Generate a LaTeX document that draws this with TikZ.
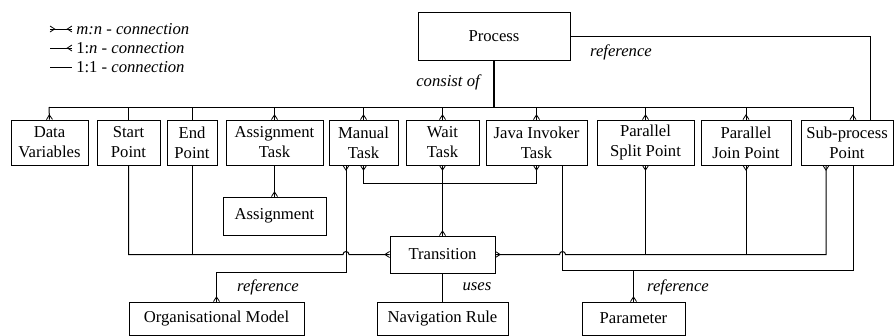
\documentclass[tikz,border=0pt]{standalone}
\usepackage{fontspec}
\setmainfont{Liberation Serif}
\usetikzlibrary{arrows.meta,calc}

% crow's foot: prongs open towards the end of the line, middle line runs through
\pgfdeclarearrow{
  name = CrowFoot,
  parameters = {\the\pgfarrowlength,\the\pgfarrowwidth},
  setup code = {
    \pgfarrowssettipend{0pt}
    \pgfarrowssetlineend{0pt}
    \pgfarrowssetbackend{-\pgfarrowlength}
    \pgfarrowssetvisualbackend{-\pgfarrowlength}
    \pgfarrowshullpoint{0pt}{.5\pgfarrowwidth}
    \pgfarrowshullpoint{0pt}{-.5\pgfarrowwidth}
    \pgfarrowshullpoint{-\pgfarrowlength}{0pt}
    \pgfarrowssavethe\pgfarrowlength
    \pgfarrowssavethe\pgfarrowwidth
  },
  drawing code = {
    \pgfsetlinewidth{0.6pt}
    \pgfsetdash{}{0pt}
    \pgfpathmoveto{\pgfqpoint{0pt}{.5\pgfarrowwidth}}
    \pgfpathlineto{\pgfqpoint{-\pgfarrowlength}{0pt}}
    \pgfpathlineto{\pgfqpoint{0pt}{-.5\pgfarrowwidth}}
    \pgfusepathqstroke
  },
  defaults = {length = 3.5pt, width = 4.5pt}
}

\tikzset{
  box/.style={draw, line width=0.7pt, inner sep=0pt, align=center,
    font=\fontsize{12.5}{15}\selectfont},
  lbl/.style={inner sep=0pt, font=\fontsize{12.5}{15}\selectfont\itshape},
  leg/.style={inner sep=0pt, anchor=west, font=\fontsize{12.5}{15}\selectfont},
  conn/.style={line width=0.75pt},
  heavy/.style={line width=1.3pt},
  crow/.style={-{CrowFoot}},
  crows/.style={{CrowFoot}-{CrowFoot}},
}

\begin{document}
\begin{tikzpicture}[x=0.75pt, y=-0.75pt]
\useasboundingbox (0,0) rectangle (894,336);

% legend
\coordinate (la1) at (50,29); \coordinate (lb1) at (72,29);
\coordinate (la2) at (50,48); \coordinate (lb2) at (72,48);
\coordinate (la3) at (50,67); \coordinate (lb3) at (72,67);
\draw[conn, crows] (la1) -- (lb1);
\draw[conn, crow] (la2) -- (lb2);
\draw[conn] (la3) -- (lb3);
\node[leg] (lt1) at (76,29) {\textit{m:n - connection}};
\node[leg] (lt2) at (76,48) {1:\textit{n - connection}};
\node[leg] (lt3) at (76,67) {1:1 \textit{- connection}};

% entities
\node[box, minimum width=114pt, minimum height=36pt] (process) at (494,36) {Process};

\tikzset{rowbox/.style={box, minimum height=33.75pt}}
\node[rowbox, minimum width=57.75pt] (datavar) at (49.5,142.5) {Data\\Variables};
\node[rowbox, minimum width=47.25pt] (start)   at (128.5,142.5) {Start\\Point};
\node[rowbox, minimum width=37.5pt]  (end)     at (192,142.5) {End\\Point};
\node[rowbox, minimum width=72.75pt] (asgtask) at (274.5,142.5) {Assignment\\Task};
\node[rowbox, minimum width=51.75pt] (manual)  at (363.5,142.5) {Manual\\Task};
\node[rowbox, minimum width=54.75pt] (wait)    at (442.5,142.5) {Wait\\Task};
\node[rowbox, minimum width=75.75pt] (java)    at (536.5,142.5) {Java Invoker\\Task};
\node[rowbox, minimum width=72.75pt] (psplit)  at (645.5,142.5) {Parallel\\Split Point};
\node[rowbox, minimum width=67.5pt]  (pjoin)   at (746,142.5) {Parallel\\Join Point};
\node[rowbox, minimum width=69pt]    (subproc) at (847,142.5) {Sub-process\\Point};

\node[box, minimum width=77.25pt, minimum height=28.5pt] (assign) at (274.5,216) {Assignment};
\node[box, minimum width=78.75pt, minimum height=27.75pt] (trans) at (442.5,254.5) {Transition};

\tikzset{lowbox/.style={box, minimum height=24.75pt}}
\node[lowbox, minimum width=131.25pt] (orgmodel) at (216.5,318.5) {Organisational Model};
\node[lowbox, minimum width=98.25pt]  (navrule)  at (442.5,318.5) {Navigation Rule};
\node[lowbox, minimum width=77.25pt]  (param)    at (633.5,318.5) {Parameter};

% helper coordinates
\coordinate (busL) at (49,107);
\coordinate (busR) at (853,107);
\coordinate (lnk) at (0,183);
\coordinate (refL) at (0,272);
\coordinate (refR) at (0,270);
\coordinate (mA) at ($(manual.south)+(-17.5,0)$);
\coordinate (jD) at ($(java.south)+(26,0)$);
\coordinate (sC) at ($(subproc.south)+(-21,0)$);
\coordinate (sD) at ($(subproc.south)+(6,0)$);
\coordinate (sR) at ($(subproc.north)+(23,0)$);
\coordinate (hopL) at (mA |- trans.west);
\coordinate (hopR) at (jD |- trans.east);

% process consists of ...
\draw[heavy] (process.south) -- (process.south |- busL);
\node[lbl] (lcons) at (448,82) {consist of};
\draw[conn] (busL) -- (busR);
\draw[conn, crow] (busL) -- (datavar.north);
\draw[conn] (start.north |- busL) -- (start.north);
\draw[conn] (end.north |- busL) -- (end.north);
\draw[conn, crow] (asgtask.north |- busL) -- (asgtask.north);
\draw[conn, crow] (manual.north |- busL) -- (manual.north);
\draw[conn, crow] (wait.north |- busL) -- (wait.north);
\draw[conn, crow] (java.north |- busL) -- (java.north);
\draw[conn, crow] (psplit.north |- busL) -- (psplit.north);
\draw[conn, crow] (pjoin.north |- busL) -- (pjoin.north);
\draw[conn, crow] (busR) -- (busR |- subproc.north);

% sub-process references a process
\draw[conn] (process.east) -| (sR);
\node[lbl] (lref1) at (621,52) {reference};

% assignment task
\draw[conn, crow] (asgtask.south) -- (assign.north);

% start / end points into transition
\draw[conn, crow] (start.south) -- (start.south |- trans.west)
  -- ($(hopL)+(-3,0)$) arc[start angle=180, end angle=0, radius=2.25pt]
  -- (trans.west);
\draw[conn] (end.south) -- (end.south |- trans.west);

% manual task references organisational model
\draw[conn, crows] (mA) -- (mA |- refL) -| (orgmodel.north);
\node[lbl] (lref2) at (268,287) {reference};

% manual task -- java invoker task
\draw[conn, crows] (manual.south) -- (manual.south |- lnk)
  -- (java.south |- lnk) -- (java.south);

% tasks into transition
\draw[heavy, crows] (wait.south) -- (trans.north);

% transition uses navigation rule
\draw[conn] (trans.south) -- (navrule.north);
\node[lbl] (luses) at (477,287) {uses};

% transition to split / join / sub-process
\draw[conn, crows] (trans.east)
  -- ($(hopR)+(-3,0)$) arc[start angle=180, end angle=0, radius=2.25pt]
  -- (sC |- trans.east) -- (sC);
\draw[conn, crow] (psplit.south |- trans.east) -- (psplit.south);
\draw[conn, crow] (pjoin.south |- trans.east) -- (pjoin.south);

% java invoker task and sub-process reference parameters
\draw[conn] (jD) -- (jD |- refR) -- (sD |- refR) -- (sD);
\draw[heavy, crow] (param.north |- refR) -- (param.north);
\node[lbl] (lref3) at (678,287) {reference};
\end{tikzpicture}
\end{document}
